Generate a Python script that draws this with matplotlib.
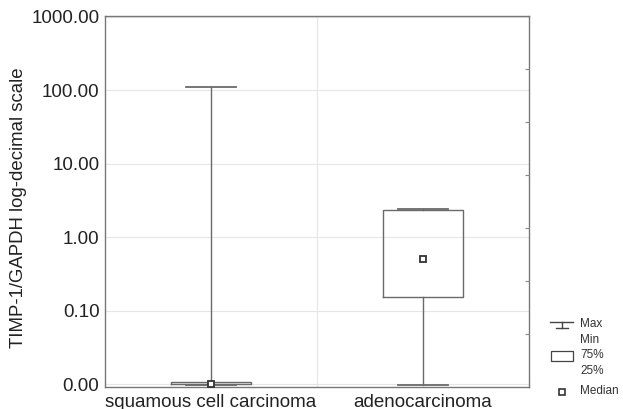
import matplotlib
matplotlib.use("Agg")
import matplotlib.pyplot as plt
from matplotlib.lines import Line2D
from matplotlib.patches import Rectangle

plt.rcParams['font.family'] = ['Liberation Sans', 'DejaVu Sans']

# values (log scale)
groups = ['squamous cell carcinoma', 'adenocarcinoma']
v_min = [0.0098, 0.0099]
v_q1 = [0.0100, 0.155]
v_med = [0.0102, 0.515]
v_q3 = [0.0106, 2.38]
v_max = [113.0, 2.42]

ytick_vals = [0.01, 0.1, 1, 10, 100, 1000]
ytick_text = ['0.00', '0.10', '1.00', '10.00', '100.00', '1000.00']

W, H = 623, 409
fig = plt.figure(figsize=(W / 100, H / 100), dpi=100)
ax = fig.add_axes([105 / W, 1 - 387 / H, (529 - 105) / W, (387 - 16) / H])

line_col = '#6a6a6a'
stats = []
for i, g in enumerate(groups):
    stats.append(dict(label=g, whislo=v_min[i], q1=v_q1[i], med=v_med[i],
                      q3=v_q3[i], whishi=v_max[i], fliers=[]))

pos = list(range(1, len(groups) + 1))
ax.bxp(stats, positions=pos, widths=0.377, capwidths=0.235, showfliers=False,
       boxprops=dict(color=line_col, linewidth=1.0),
       whiskerprops=dict(color=line_col, linewidth=1.0),
       capprops=dict(color=line_col, linewidth=1.3),
       medianprops=dict(linestyle='none'))
ax.plot(pos, v_med, linestyle='none', marker='s', markersize=5,
        markerfacecolor='white', markeredgecolor='#333333', markeredgewidth=1.3,
        zorder=5)

ax.set_yscale('log')
ax.set_ylim(0.0092, 1030)
ax.set_xlim(0.5, 2.5)
ax.set_yticks(ytick_vals)
ax.set_yticklabels(ytick_text)
ax.minorticks_off()
ax.set_xticks(pos)
ax.set_xticklabels(groups)
ax.tick_params(axis='both', length=0, labelsize=13.5, colors='#222222', pad=4)
ax.tick_params(axis='x', pad=5)

# grid
for yv in ytick_vals:
    ax.axhline(yv, color='#e6e6e6', linewidth=0.8, zorder=0)
ax.axvline(1.5, color='#e6e6e6', linewidth=0.8, zorder=0)

for s in ax.spines.values():
    s.set_color('#777777')
    s.set_linewidth(1.0)

# y label placed by pixel position
fig.text(19 / W, 1 - 208 / H, 'TIMP-1/GAPDH log-decimal scale', rotation=90,
         fontsize=13.4, color='#222222', ha='center', va='center')

# small inward ticks on right spine
ax2 = ax.twinx()
ax2.set_ylim(0, 7)
ax2.set_yticks([1, 2, 3, 4, 5, 6])
ax2.tick_params(axis='y', direction='in', length=3, color='#888888',
                labelright=False)
for s in ax2.spines.values():
    s.set_visible(False)

# legend drawn in pixel coordinates
def fx(x):
    return x / W

def fy(y):
    return 1 - y / H

lc = '#444444'
fig.add_artist(Line2D([fx(550), fx(573)], [fy(322), fy(322)], color=lc, lw=1))
fig.add_artist(Line2D([fx(562), fx(562)], [fy(322), fy(328)], color=lc, lw=1))
fig.add_artist(Line2D([fx(556), fx(568)], [fy(328), fy(328)], color=lc, lw=1))
fig.add_artist(Rectangle((fx(551), fy(361)), fx(22), 10 / H, fill=False,
                         edgecolor=lc, lw=0.9))
fig.add_artist(Line2D([fx(562)], [fy(392)], marker='s', markersize=4,
                      markerfacecolor='white', markeredgecolor='#333333',
                      markeredgewidth=1.2, linestyle='none'))
leg_items = [('Max', 324), ('Min', 340), ('75%', 355), ('25%', 371), ('Median', 391)]
for txt, yy in leg_items:
    fig.text(fx(580), fy(yy), txt, fontsize=8.5, color='#333333', va='center', ha='left')

fig.savefig('out.png', dpi=100)
